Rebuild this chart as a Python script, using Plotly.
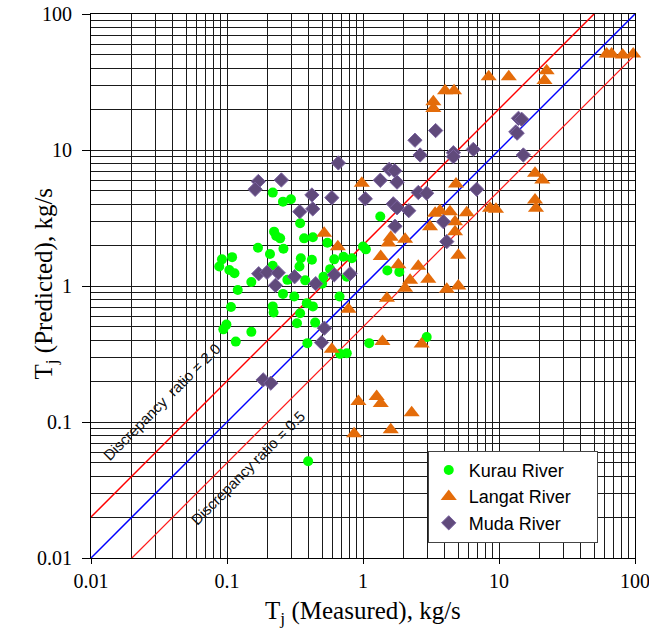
import plotly.graph_objects as go

# ---------------- data ----------------
kurau_x = [0.169, 0.0918, 0.109, 0.0877, 0.104, 0.1135, 0.151, 0.120, 0.107, 0.099,
           0.094, 0.151, 0.116, 0.217, 0.258, 0.295, 0.345, 0.222, 0.230, 0.246,
           0.369, 0.428, 0.207, 0.260, 0.349, 0.421, 0.341, 0.217, 0.278, 0.376,
           0.512, 0.573, 0.614, 0.718, 0.828, 1.00, 1.34, 0.258, 0.312, 0.386,
           0.428, 0.50, 0.672, 0.760, 0.217, 0.220, 0.345, 0.327, 0.445, 0.390,
           0.679, 0.760, 1.11, 0.547, 1.05, 1.51, 1.85, 2.94, 0.395]
kurau_y = [1.91, 1.57, 1.63, 1.39, 1.31, 1.24, 1.07, 0.935, 0.70, 0.52,
           0.48, 0.46, 0.39, 4.86, 4.17, 4.34, 2.89, 2.51, 2.33, 2.24,
           2.24, 2.28, 1.72, 1.88, 1.60, 1.56, 1.39, 1.41, 1.11, 1.10,
           1.17, 1.33, 1.57, 1.64, 1.60, 1.95, 3.24, 0.875, 0.836, 0.748,
           0.708, 1.04, 0.836, 1.17, 0.708, 0.639, 0.631, 0.533, 0.538, 0.380,
           0.317, 0.320, 0.380, 2.08, 1.86, 1.30, 1.27, 0.421, 0.0514]

langat_x = [0.98, 0.518, 0.653, 0.782, 0.590, 1.35, 1.82, 2.55, 5.02, 2.22,
            2.04, 3.02, 4.13, 5.02, 1.50, 1.39, 2.70, 0.925, 1.26, 1.35,
            2.28, 1.60, 0.86, 1.60, 1.54, 2.04, 3.39, 3.11, 3.68, 4.36,
            4.75, 4.75, 5.79, 4.83, 8.59, 9.5, 18.4, 20.8, 18.4, 18.7,
            3.29, 3.29, 4.01, 4.67, 8.40, 11.8, 22.4, 21.6, 61.9, 67.3,
            81.1, 97.0]
langat_y = [5.69, 2.44, 1.94, 0.675, 0.343, 1.65, 1.43, 1.40, 1.68, 1.10,
            0.964, 1.12, 0.946, 1.00, 0.813, 0.390, 0.375, 0.1415, 0.154, 0.137,
            0.117, 0.0877, 0.0819, 2.28, 2.07, 2.21, 3.43, 2.73, 3.58, 3.52,
            2.97, 2.51, 3.46, 5.62, 3.73, 3.67, 6.74, 6.02, 4.29, 3.73,
            22.6, 20.2, 27.3, 27.3, 34.6, 34.6, 38.3, 32.5, 50.7, 50.7,
            49.9, 50.7]

muda_x = [0.659, 0.170, 0.161, 0.251, 0.421, 0.590, 1.04, 1.34, 0.343, 0.427,
          0.171, 0.197, 0.238, 0.314, 0.227, 0.449, 0.615, 0.804, 0.520, 0.495,
          0.1845, 0.210, 2.41, 2.63, 3.42, 1.56, 1.71, 1.78, 1.67, 1.78,
          2.17, 2.55, 2.94, 1.72, 13.9, 14.7, 13.3, 13.6, 15.1, 6.47,
          4.62, 4.62, 6.85, 3.90, 4.13]
muda_y = [8.03, 5.87, 5.14, 6.02, 4.67, 4.46, 4.38, 5.99, 3.52, 3.69,
          1.23, 1.26, 1.25, 1.17, 1.01, 1.04, 1.21, 1.23, 0.490, 0.384,
          0.204, 0.193, 11.8, 9.19, 13.9, 7.21, 7.04, 5.80, 4.02, 3.76,
          3.58, 4.87, 4.81, 2.75, 17.1, 16.8, 13.6, 13.3, 9.19, 10.1,
          9.55, 8.93, 5.14, 2.97, 2.12]

series_names = ["Kurau River", "Langat River", "Muda River"]

# reference lines (end points)
line_perfect_x = [0.01, 100]
line_perfect_y = [0.01, 100]
line_ratio2_x = [0.01, 50]
line_ratio2_y = [0.02, 100]
line_ratio05_x = [0.02, 100]
line_ratio05_y = [0.01, 50]

major_ticks = [0.01, 0.1, 1, 10, 100]
major_labels = ["0.01", "0.1", "1", "10", "100"]
minor_ticks = [m * d for d in [0.01, 0.1, 1, 10] for m in range(2, 10)]

# ---------------- figure ----------------
fig = go.Figure()

fig.add_trace(go.Scatter(x=line_ratio2_x, y=line_ratio2_y, mode="lines",
                         line=dict(color="#ff0000", width=1.5), showlegend=False, hoverinfo="skip"))
fig.add_trace(go.Scatter(x=line_perfect_x, y=line_perfect_y, mode="lines",
                         line=dict(color="#0000ff", width=1.5), showlegend=False, hoverinfo="skip"))
fig.add_trace(go.Scatter(x=line_ratio05_x, y=line_ratio05_y, mode="lines",
                         line=dict(color="#ff1a1a", width=1.2), showlegend=False, hoverinfo="skip"))

pad = "\u00a0" * 4  # widens the legend box to match the reference
fig.add_trace(go.Scatter(x=kurau_x, y=kurau_y, mode="markers", name=series_names[0] + pad,
                         marker=dict(symbol="circle", size=10, color="#00ff00", line=dict(width=0)),
                         cliponaxis=False))
fig.add_trace(go.Scatter(x=langat_x, y=langat_y, mode="markers", name=series_names[1] + pad,
                         marker=dict(symbol="triangle-up", size=14, color="#e46c0a", line=dict(width=0)),
                         cliponaxis=False))
fig.add_trace(go.Scatter(x=muda_x, y=muda_y, mode="markers", name=series_names[2] + pad,
                         marker=dict(symbol="diamond", size=11, color="#604a7b",
                                     line=dict(width=1, color="#7a63a0")),
                         cliponaxis=False))

grid_color = "#1a1a1a"
axis_common = dict(
    type="log", range=[-2, 2],
    tickmode="array", tickvals=major_ticks, ticktext=major_labels,
    showgrid=True, gridcolor=grid_color, gridwidth=1,
    showline=True, linecolor="black", linewidth=1, mirror=True,
    ticks="outside", tickcolor="black", tickwidth=1,
    tickfont=dict(family="Liberation Serif", size=20, color="black"),
    minor=dict(tickmode="array", tickvals=minor_ticks, showgrid=True,
               gridcolor=grid_color, gridwidth=1, ticks=""),
    zeroline=False, automargin=False, ticklabeloverflow="allow",
)

fig.update_xaxes(**axis_common, ticklen=5)
fig.update_yaxes(**axis_common, ticklen=8, ticklabelstandoff=6)

fig.update_layout(
    width=649, height=632,
    margin=dict(l=91, r=14, t=14, b=74),
    paper_bgcolor="white", plot_bgcolor="white",
    showlegend=True,
    legend=dict(x=0.619, y=0.197, xanchor="left", yanchor="top",
                bgcolor="white", bordercolor="#444", borderwidth=1,
                font=dict(family="Liberation Sans", size=18, color="black")),
    annotations=[
        dict(text="Discrepancy \u00a0ratio = 2.0", x=-1.476, y=-0.852, xref="x", yref="y",
             showarrow=False, textangle=-45, xanchor="center", yanchor="middle",
             font=dict(family="Liberation Sans", size=15, color="#111")),
        dict(text="Discrepancy ratio = 0.5", x=-0.844, y=-1.337, xref="x", yref="y",
             showarrow=False, textangle=-45, xanchor="center", yanchor="middle",
             font=dict(family="Liberation Sans", size=15, color="#111")),
        dict(text="T<sub>j</sub> (Measured), kg/s", x=0.5, y=-0.100, xref="paper", yref="paper",
             showarrow=False, xanchor="center", yanchor="middle",
             font=dict(family="Liberation Serif", size=25, color="black")),
        dict(text="T<sub>j</sub> (Predicted), kg/s", x=-0.084, y=0.505, xref="paper", yref="paper",
             showarrow=False, textangle=-90, xanchor="center", yanchor="middle",
             font=dict(family="Liberation Serif", size=25, color="black")),
    ],
)

fig.write_html("out.html", config={"displayModeBar": False},
               post_script="document.body.style.margin='0';")
